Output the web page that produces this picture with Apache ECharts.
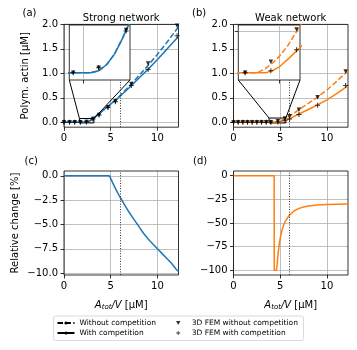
<!DOCTYPE html>
<html>
<head>
<meta charset="utf-8">
<script src="https://cdn.jsdelivr.net/npm/echarts@6/dist/echarts.min.js"></script>
<style>
html, body { margin: 0; padding: 0; background: #fff; }
#chart { width: 357px; height: 350px; }
</style>
</head>
<body>
<div id="chart"></div>
<script>
// ---- data ----
const xTicks = [0, 5, 10];
const xRange = [0, 12.25];
const polymTicks = [0, 0.5, 1, 1.5, 2];
const polymRange = [-0.1, 2];
const relTicksC = [-10, -7.5, -5, -2.5, 0];
const relRangeC = [-10.2, 0.5];
const relTicksD = [-100, -75, -50, -25, 0];
const relRangeD = [-105, 5];
const markerX = 6; // dotted line

// (a) strong network, model curves
const aCurveX = [0, 2.2, 2.4, 2.6, 2.8, 3.0, 3.2, 3.5, 4, 4.5, 4.86, 5.5, 6, 7, 8, 9, 10, 11, 12, 12.25];
const aWithoutY = [0, 0, 0.003, 0.013, 0.03, 0.055, 0.083, 0.135, 0.215, 0.295, 0.35, 0.455, 0.545, 0.74, 0.95, 1.165, 1.39, 1.63, 1.885, 1.95];
const aWithY = [0, 0, 0.003, 0.013, 0.03, 0.055, 0.083, 0.135, 0.215, 0.295, 0.35, 0.45, 0.533, 0.71, 0.90, 1.085, 1.285, 1.49, 1.70, 1.755];
// (a) 3D FEM points
const aFemX = [0, 0.6, 1.15, 1.75, 2.4, 3.1, 3.75, 4.7, 5.5, 7.2, 9, 12.1];
const aFemWithoutY = [0, 0, 0, 0, 0.008, 0.07, 0.15, 0.3, 0.43, 0.78, 1.2, 1.97];
const aFemWithY = [0, 0, 0, 0, 0.008, 0.068, 0.15, 0.3, 0.42, 0.75, 1.08, 1.77];

// (b) weak network, model curves
const bWithoutX = [0, 4.35, 4.6, 4.8, 5, 5.25, 5.5, 5.75, 6, 6.5, 7, 8, 9, 10, 11, 12, 12.25];
const bWithoutY = [0, 0, 0.008, 0.018, 0.03, 0.05, 0.075, 0.1, 0.128, 0.19, 0.26, 0.385, 0.515, 0.66, 0.83, 1.01, 1.06];
const bWithX = [0, 4.6, 4.8, 5, 5.25, 5.5, 5.75, 6, 6.5, 7, 8, 9, 10, 11, 12, 12.25];
const bWithY = [0, 0, 0.004, 0.011, 0.025, 0.04, 0.055, 0.073, 0.12, 0.17, 0.262, 0.355, 0.46, 0.58, 0.715, 0.75];
// (b) 3D FEM points
const bFemX = [0, 0.5, 1, 1.5, 2, 2.5, 3, 3.5, 4, 4.75, 5.5, 6, 7, 9, 12];
const bFemWithoutY = [0, 0, 0, 0, 0, 0, 0, 0, 0, 0.02, 0.079, 0.125, 0.255, 0.51, 1.04];
const bFemWithY = [0, 0, 0, 0, 0, 0, 0, 0, 0, 0.004, 0.042, 0.07, 0.16, 0.35, 0.75];

// (c) relative change, strong
const cX = [0, 4.86, 5.2, 5.6, 6, 6.5, 7, 7.5, 8, 8.5, 9, 9.5, 10, 10.5, 11, 11.5, 12, 12.25];
const cY = [0, 0, -0.7, -1.5, -2.2, -3.0, -3.8, -4.5, -5.2, -5.9, -6.5, -7.0, -7.5, -8.0, -8.5, -9.0, -9.6, -9.85];

// (d) relative change, weak
const dX = [0, 4.35, 4.36, 4.6, 4.7, 4.8, 4.9, 5.0, 5.15, 5.3, 5.5, 5.75, 6, 6.5, 7, 7.5, 8, 9, 10, 11, 12.25];
const dY = [0, 0, -100, -100, -90, -80, -72, -66, -59, -54, -49, -45, -41.5, -37, -34.5, -33, -32, -31, -30.5, -30.2, -30];

// zoom insets
const insetAX = [1.65, 3.2], insetAY = [-0.012, 0.078];
const insetBX = [3.8, 5.6], insetBY = [-0.013, 0.087];
const insetATicksX = [2], insetATicksY = [];
const insetBTicksX = [5], insetBTicksY = [0.075];

const legendLines = ['Without competition', 'With competition'];
const legendFem = ['3D FEM without competition', '3D FEM with competition'];

// ---- styles ----
const font = 'DejaVu Sans';
const blue = '#1f77b4';
const orange = '#ff7f0e';
const gridGrey = '#b0b0b0';
const dash = [5.5, 2.4];
const triDown = 'path://M0,0 L10,0 L5,9 Z';
const plus = 'path://M4,0 L6,0 L6,4 L10,4 L10,6 L6,6 L6,10 L4,10 L4,6 L0,6 L0,4 L4,4 Z';

const pairs = (xs, ys) => xs.map((x, i) => [x, ys[i]]);
const minus = s => s.replace('-', '\u2212');

function xAx(gi, range, ticks, labels, extra) {
    return Object.assign({
        type: 'value', gridIndex: gi, min: range[0], max: range[1],
        axisLine: { show: false, onZero: false },
        axisTick: { show: true, inside: false, length: 3.5, customValues: ticks, lineStyle: { color: '#000', width: 0.8 } },
        axisLabel: { show: labels, customValues: ticks, margin: 6, fontSize: 10, fontFamily: font, color: '#000' },
        splitLine: { show: true, lineStyle: { color: gridGrey, width: 0.8 } },
    }, extra || {});
}
function yAx(gi, range, ticks, labels, fmt, extra) {
    return Object.assign({
        type: 'value', gridIndex: gi, min: range[0], max: range[1],
        axisLine: { show: false, onZero: false },
        axisTick: { show: true, inside: false, length: 3.5, customValues: ticks, lineStyle: { color: '#000', width: 0.8 } },
        axisLabel: { show: labels, customValues: ticks, margin: 6, fontSize: 10, fontFamily: font, color: '#000', formatter: fmt },
        splitLine: { show: true, lineStyle: { color: gridGrey, width: 0.8 } },
    }, extra || {});
}

const xName = {
    name: '{i|A}{s|tot}{i|/V} [\u03bcM]',
    nameLocation: 'middle',
    nameGap: 25,
    nameTextStyle: {
        fontSize: 10, fontFamily: font, color: '#000',
        rich: {
            i: { fontStyle: 'italic', fontSize: 10, fontFamily: font, color: '#000' },
            s: { fontStyle: 'italic', fontSize: 7, fontFamily: font, color: '#000', verticalAlign: 'bottom', padding: [4, 0, 0, 0] },
        },
    },
};

function line(name, gi, xs, ys, color, dashed, z, extra) {
    return Object.assign({
        type: 'line', name, xAxisIndex: gi, yAxisIndex: gi,
        data: pairs(xs, ys), symbol: 'none', silent: true, z,
        lineStyle: { color, width: 1.5, type: dashed ? dash : 'solid' },
        itemStyle: { color },
    }, extra || {});
}
function fem(name, gi, xs, ys, symbol, size, z) {
    return {
        type: 'scatter', name, xAxisIndex: gi, yAxisIndex: gi,
        data: pairs(xs, ys), symbol, symbolSize: size, silent: true, z,
        itemStyle: { color: '#000' },
    };
}
const dotted = {
    silent: true, symbol: ['none', 'none'], label: { show: false },
    lineStyle: { type: [1, 1.6], color: '#333', width: 1 },
    data: [{ xAxis: markerX }],
};
function zoomBox(ix, iy) {
    return {
        silent: true,
        itemStyle: { color: 'rgba(0,0,0,0)', borderColor: '#000', borderWidth: 1 },
        data: [[{ coord: [ix[0], iy[0]] }, { coord: [ix[1], iy[1]] }]],
    };
}

const chart = echarts.init(document.getElementById('chart'));

const gridBase = { show: true, borderColor: '#000', borderWidth: 0.8, backgroundColor: 'transparent', z: 1 };
const insetBase = { show: true, borderColor: '#000', borderWidth: 0.8, backgroundColor: '#fff', z: 10 };
const legendBase = {
    orient: 'vertical', top: 319, padding: 0,
    itemWidth: 17, itemHeight: 4, itemGap: 2, selectedMode: false,
    textStyle: { fontSize: 7.5, fontFamily: font, color: '#000' },
};

const option = {
    animation: false,
    grid: [
        Object.assign({ left: 64, top: 24.4, width: 114.5, height: 102.8 }, gridBase),
        Object.assign({ left: 233.5, top: 24.4, width: 114.5, height: 102.8 }, gridBase),
        Object.assign({ left: 64, top: 171, width: 114.5, height: 104 }, gridBase),
        Object.assign({ left: 233.5, top: 171, width: 114.5, height: 104 }, gridBase),
        Object.assign({ left: 69.3, top: 25, width: 60.7, height: 55 }, insetBase),
        Object.assign({ left: 238.3, top: 25, width: 61.7, height: 55 }, insetBase),
    ],
    xAxis: [
        xAx(0, xRange, xTicks, true),
        xAx(1, xRange, xTicks, true),
        xAx(2, xRange, xTicks, true, xName),
        xAx(3, xRange, xTicks, true, xName),
        xAx(4, insetAX, insetATicksX, false, { z: 11 }),
        xAx(5, insetBX, insetBTicksX, false, { z: 11 }),
    ],
    yAxis: [
        yAx(0, polymRange, polymTicks, true, v => v.toFixed(1), {
            name: 'Polym. actin [\u03bcM]', nameLocation: 'middle', nameGap: 34,
            nameTextStyle: { fontSize: 10, fontFamily: font, color: '#000' },
        }),
        yAx(1, polymRange, polymTicks, true, v => v.toFixed(1)),
        yAx(2, relRangeC, relTicksC, true, v => minus(v.toFixed(1)), {
            name: 'Relative change [%]', nameLocation: 'middle', nameGap: 44,
            nameTextStyle: { fontSize: 10, fontFamily: font, color: '#000' },
        }),
        yAx(3, relRangeD, relTicksD, true, v => minus(String(v))),
        yAx(4, insetAY, insetATicksY, false, null, { z: 11 }),
        yAx(5, insetBY, insetBTicksY, false, null, { z: 11 }),
    ],
    legend: [
        Object.assign({ data: legendLines, left: 56.5 }, legendBase),
        Object.assign({ data: legendFem, left: 176 }, legendBase),
    ],
    series: [
        // (a)
        line('a-without', 0, aCurveX, aWithoutY, blue, true, 3, { markArea: zoomBox(insetAX, insetAY) }),
        line('a-with', 0, aCurveX, aWithY, blue, false, 3, { markLine: dotted }),
        fem('a-fem-without', 0, aFemX, aFemWithoutY, triDown, 4.5, 4),
        fem('a-fem-with', 0, aFemX, aFemWithY, plus, 5, 4),
        // (b)
        line('b-without', 1, bWithoutX, bWithoutY, orange, true, 3, { markArea: zoomBox(insetBX, insetBY) }),
        line('b-with', 1, bWithX, bWithY, orange, false, 3, { markLine: dotted }),
        fem('b-fem-without', 1, bFemX, bFemWithoutY, triDown, 4.5, 4),
        fem('b-fem-with', 1, bFemX, bFemWithY, plus, 5, 4),
        // (c), (d)
        line('c', 2, cX, cY, blue, false, 3, { markLine: dotted }),
        line('d', 3, dX, dY, orange, false, 3, { markLine: dotted }),
        // insets
        line('ia-without', 4, aCurveX, aWithoutY, blue, true, 12),
        line('ia-with', 4, aCurveX, aWithY, blue, false, 12),
        fem('ia-fem-without', 4, aFemX, aFemWithoutY, triDown, 4.5, 13),
        fem('ia-fem-with', 4, aFemX, aFemWithY, plus, 5, 13),
        line('ib-without', 5, bWithoutX, bWithoutY, orange, true, 12),
        line('ib-with', 5, bWithX, bWithY, orange, false, 12),
        fem('ib-fem-without', 5, bFemX, bFemWithoutY, triDown, 4.5, 13),
        fem('ib-fem-with', 5, bFemX, bFemWithY, plus, 5, 13),
        // legend entries
        line(legendLines[0], 0, [], [], '#000', true, 1),
        line(legendLines[1], 0, [], [], '#000', false, 1),
        fem(legendFem[0], 0, [], [], triDown, 4.5, 1),
        fem(legendFem[1], 0, [], [], plus, 5, 1),
    ],
};
chart.setOption(option);

// connector lines from inset corners to the zoom box, placed through the axes
function connectors(mainIdx, insetIdx, ix, iy) {
    const inset = { xAxisIndex: insetIdx, yAxisIndex: insetIdx };
    const main = { xAxisIndex: mainIdx, yAxisIndex: mainIdx };
    const bl = chart.convertToPixel(inset, [ix[0], iy[0]]);
    const br = chart.convertToPixel(inset, [ix[1], iy[0]]);
    const tl = chart.convertToPixel(main, [ix[0], iy[1]]);
    const tr = chart.convertToPixel(main, [ix[1], iy[1]]);
    return [[bl, tl], [br, tr]].map(p => ({
        type: 'line', z: 5, silent: true,
        shape: { x1: p[0][0], y1: p[0][1], x2: p[1][0], y2: p[1][1] },
        style: { stroke: '#000', lineWidth: 1 },
    }));
}
function label(text, x, y, align) {
    return {
        type: 'text', x, y, z: 20, silent: true,
        style: {
            text, fill: '#000', font: '10px "DejaVu Sans"',
            align: align || 'left', verticalAlign: 'middle',
            textAlign: align || 'left', textVerticalAlign: 'middle',
        },
    };
}

chart.setOption({
    graphic: [
        { type: 'rect', z: 0, silent: true, shape: { x: 53.5, y: 316, width: 250, height: 24.5, r: 2 },
          style: { fill: '#fff', stroke: '#d0d0d0', lineWidth: 0.8 } },
        label('(a)', 22.5, 13.5),
        label('(b)', 192, 13.5),
        label('(c)', 24.5, 161),
        label('(d)', 193, 161),
        label('Strong network', 121.2, 18.5, 'center'),
        label('Weak network', 290.7, 18.5, 'center'),
    ].concat(connectors(0, 4, insetAX, insetAY), connectors(1, 5, insetBX, insetBY)),
});
</script>
</body>
</html>
